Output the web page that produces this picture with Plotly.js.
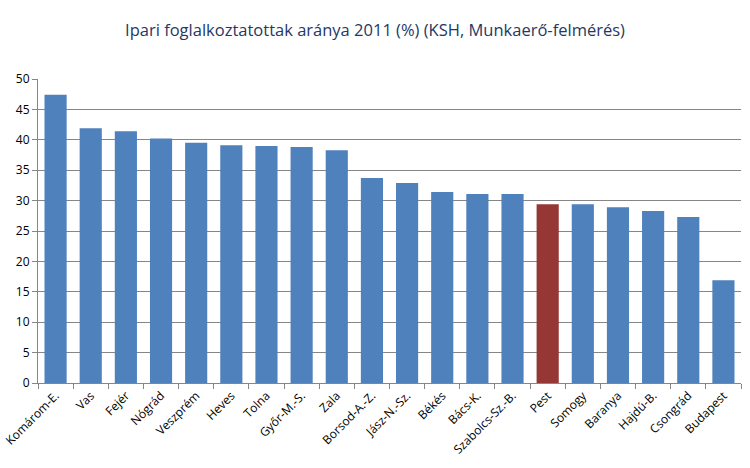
<!DOCTYPE html>
<html>
<head>
<meta charset="utf-8">
<script src="https://cdn.plot.ly/plotly-3.0.1.min.js"></script>
<style>
  html, body { margin: 0; padding: 0; background: #ffffff; }
  #chart { width: 750px; height: 468px; }
</style>
</head>
<body>
<div id="chart"></div>
<script>
// Megyék (és Budapest) szerinti ipari foglalkoztatási arány, 2011
const counties = [
  "Komárom-E.", "Vas", "Fejér", "Nógrád", "Veszprém", "Heves", "Tolna",
  "Győr-M.-S.", "Zala", "Borsod-A.-Z.", "Jász-N.-Sz.", "Békés", "Bács-K.",
  "Szabolcs-Sz.-B.", "Pest", "Somogy", "Baranya", "Hajdú-B.", "Csongrád", "Budapest"
];
const industryShare = [
  47.4, 41.9, 41.4, 40.2, 39.5, 39.1, 39.0,
  38.8, 38.3, 33.7, 32.9, 31.4, 31.1,
  31.1, 29.4, 29.4, 28.9, 28.3, 27.3, 16.9
];
const highlighted = "Pest";
const yTicks = [0, 5, 10, 15, 20, 25, 30, 35, 40, 45, 50];

const barColors = counties.map(c => c === highlighted ? "#953735" : "#4F81BD");

const trace = {
  type: "bar",
  x: counties,
  y: industryShare,
  marker: { color: barColors, line: { width: 0 } },
  hoverinfo: "x+y"
};

const layout = {
  width: 750,
  height: 468,
  margin: { l: 38, r: 9, t: 79, b: 85 },
  paper_bgcolor: "#ffffff",
  plot_bgcolor: "#ffffff",
  bargap: 0.37,
  showlegend: false,
  font: { family: "Open Sans, Liberation Sans, sans-serif", color: "#000000" },
  title: {
    text: "Ipari foglalkoztatottak aránya 2011 (%) (KSH, Munkaerő-felmérés)",
    font: { family: "Open Sans, Liberation Sans, sans-serif", size: 16.5, color: "#1F3864" },
    x: 0.5,
    xanchor: "center",
    y: 0.935,
    yanchor: "middle"
  },
  xaxis: {
    type: "category",
    tickangle: -45,
    tickfont: { size: 12, color: "#000000" },
    showline: true,
    linecolor: "#868686",
    linewidth: 1,
    ticks: "outside",
    tickson: "boundaries",
    ticklen: 5,
    tickcolor: "#868686",
    showgrid: false,
    zeroline: false
  },
  yaxis: {
    range: [0, 50],
    tickvals: yTicks,
    ticktext: yTicks.map(String),
    tickfont: { size: 12, color: "#000000" },
    showline: true,
    linecolor: "#868686",
    linewidth: 1,
    ticks: "outside",
    ticklen: 5,
    tickcolor: "#868686",
    showgrid: true,
    gridcolor: "#868686",
    gridwidth: 1,
    zeroline: false,
    fixedrange: true
  }
};

Plotly.newPlot("chart", [trace], layout, { displayModeBar: false, staticPlot: true });
</script>
</body>
</html>
